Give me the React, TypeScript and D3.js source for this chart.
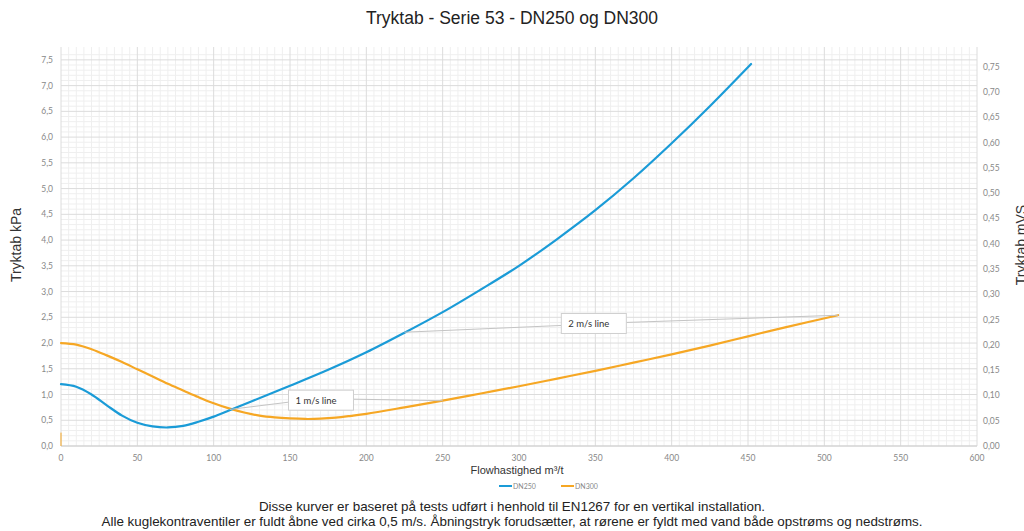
import React from "react";
import * as d3 from "d3";

const title = "Tryktab - Serie 53 - DN250 og DN300";
const xLabel = "Flowhastighed m³/t";
const yLeftLabel = "Tryktab kPa";
const yRightLabel = "Tryktab mVS";
const footer1 = "Disse kurver er baseret på tests udført i henhold til EN1267 for en vertikal installation.";
const footer2 = "Alle kuglekontraventiler er fuldt åbne ved cirka 0,5 m/s. Åbningstryk forudsætter, at rørene er fyldt med vand både opstrøms og nedstrøms.";

const xTicks = [0, 50, 100, 150, 200, 250, 300, 350, 400, 450, 500, 550, 600];
const yLeftTicks = [0, 0.5, 1, 1.5, 2, 2.5, 3, 3.5, 4, 4.5, 5, 5.5, 6, 6.5, 7, 7.5];
const yRightTicks = [0, 0.05, 0.1, 0.15, 0.2, 0.25, 0.3, 0.35, 0.4, 0.45, 0.5, 0.55, 0.6, 0.65, 0.7, 0.75];

const dn250X = [0, 10, 20, 30, 40, 50, 60, 70, 80, 90, 100, 110, 125, 150, 175, 200, 225, 250, 275, 300, 325, 350, 375, 400, 425, 452];
const dn250Y = [1.2, 1.15, 1.0, 0.79, 0.59, 0.45, 0.38, 0.36, 0.39, 0.47, 0.57, 0.69, 0.87, 1.17, 1.48, 1.82, 2.2, 2.6, 3.04, 3.5, 4.02, 4.58, 5.2, 5.88, 6.6, 7.42];

const dn300X = [0, 10, 20, 30, 40, 50, 60, 70, 80, 90, 100, 110, 120, 130, 140, 150, 160, 170, 180, 190, 200, 225, 250, 275, 300, 325, 350, 375, 400, 425, 450, 475, 509];
const dn300Y = [2.0, 1.97, 1.88, 1.76, 1.63, 1.49, 1.35, 1.21, 1.08, 0.95, 0.83, 0.73, 0.65, 0.59, 0.555, 0.535, 0.525, 0.53, 0.55, 0.585, 0.625, 0.75, 0.88, 1.02, 1.16, 1.31, 1.46, 1.62, 1.78, 1.95, 2.13, 2.31, 2.54];

const stubX = [0, 0];
const stubY = [0, 0.26];

const annotLabels = ["1 m/s line", "2 m/s line"];
const annotFromX = [110.5, 225];
const annotFromY = [0.71, 2.21];
const annotToX = [250, 509];
const annotToY = [0.88, 2.54];
const annotBoxX = [170.3, 349];
const annotBoxY = [0.89, 2.38];

const seriesNames = ["DN250", "DN300"];
const seriesColors = ["#1a9bd7", "#f6a724"];

const W = 1024, H = 531;
const M = { left: 61, right: 977, top: 47, bottom: 446 };

export default function App() {
  const x = d3.scaleLinear().domain([0, 600]).range([M.left, M.right]);
  const y = d3.scaleLinear().domain([0, 7.75]).range([M.bottom, M.top]);
  const yR = d3.scaleLinear().domain([0, 0.789]).range([M.bottom, M.top]);
  const fmt1 = (v: number) => d3.format(".1f")(v).replace(".", ",");
  const fmt2 = (v: number) => d3.format(".2f")(v).replace(".", ",");

  const line = d3.line<[number, number]>().x(d => x(d[0])).y(d => y(d[1])).curve(d3.curveCatmullRom.alpha(0.5));
  const d250 = line(dn250X.map((v, i) => [v, dn250Y[i]]) as [number, number][]) || "";
  const d300 = line(dn300X.map((v, i) => [v, dn300Y[i]]) as [number, number][]) || "";
  const dStub = d3.line<[number, number]>().x(d => x(d[0])).y(d => y(d[1]))(stubX.map((v, i) => [v, stubY[i]]) as [number, number][]) || "";

  const minorX = d3.range(0, 601, 5).filter(v => v % 50 !== 0);
  const minorY = d3.range(0, 77).map(i => i / 10).filter(v => Math.round(v * 10) % 5 !== 0);
  const majorY = d3.range(0, 16).map(i => i * 0.5);

  const tickFont = "Lato, 'Open Sans', sans-serif";
  const mainFont = "'Liberation Sans', Arial, sans-serif";

  return (
    <div style={{ position: "absolute", left: 0, top: 0 }}>
      <svg width={W} height={H} style={{ display: "block", background: "#fff" }}>
        <text x={512} y={24} textAnchor="middle" fontFamily={mainFont} fontSize={17.5} fill="#222">{title}</text>

        {/* grid */}
        {minorX.map(v => (
          <line key={"mx" + v} x1={x(v)} x2={x(v)} y1={M.top} y2={M.bottom} stroke="#efefef" strokeWidth={1} />
        ))}
        {minorY.map(v => (
          <line key={"my" + v} x1={M.left} x2={M.right} y1={y(v)} y2={y(v)} stroke="#efefef" strokeWidth={1} />
        ))}
        {xTicks.map(v => (
          <line key={"Mx" + v} x1={x(v)} x2={x(v)} y1={M.top} y2={M.bottom} stroke="#dcdcdc" strokeWidth={1} />
        ))}
        {majorY.map(v => (
          <line key={"My" + v} x1={M.left} x2={M.right} y1={y(v)} y2={y(v)} stroke="#dcdcdc" strokeWidth={1} />
        ))}
        <line x1={M.left} x2={M.right} y1={M.bottom} y2={M.bottom} stroke="#cfcfcf" />

        {/* tick labels */}
        {xTicks.map(v => (
          <text key={"xt" + v} x={x(v)} y={461} textAnchor="middle" fontFamily={tickFont} fontSize={8.5} fill="#888">{v}</text>
        ))}
        {yLeftTicks.map(v => (
          <text key={"yl" + v} x={53} y={y(v) + 3} textAnchor="end" fontFamily={tickFont} fontSize={8.5} fill="#888">{fmt1(v)}</text>
        ))}
        {yRightTicks.map(v => (
          <text key={"yr" + v} x={983} y={yR(v) + 3} textAnchor="start" fontFamily={tickFont} fontSize={8.5} fill="#888">{fmt2(v)}</text>
        ))}

        {/* axis titles */}
        <text transform="translate(21,245) rotate(-90)" textAnchor="middle" fontFamily={mainFont} fontSize={14} fill="#333">{yLeftLabel}</text>
        <text transform="translate(1026,245) rotate(-90)" textAnchor="middle" fontFamily={mainFont} fontSize={14} fill="#333">{yRightLabel}</text>
        <text x={517} y={474} textAnchor="middle" fontFamily={mainFont} fontSize={11} fill="#333">{xLabel}</text>

        {/* series */}
        <path d={dStub} fill="none" stroke={seriesColors[1]} strokeWidth={1} />
        <path d={d300} fill="none" stroke={seriesColors[1]} strokeWidth={2.2} strokeLinecap="round" />
        <path d={d250} fill="none" stroke={seriesColors[0]} strokeWidth={2.2} strokeLinecap="round" />

        {/* annotations */}
        {annotLabels.map((lab, i) => {
          const bx = x(annotBoxX[i]);
          const by = y(annotBoxY[i]);
          const bw = 65, bh = 20;
          return (
            <g key={"an" + i}>
              <line x1={x(annotFromX[i])} y1={y(annotFromY[i])} x2={bx - bw / 2} y2={by + 2} stroke="#c4c4c4" strokeWidth={1} />
              <line x1={bx + bw / 2} y1={by - 1} x2={x(annotToX[i])} y2={y(annotToY[i])} stroke="#c4c4c4" strokeWidth={1} />
              <rect x={bx - bw / 2} y={by - bh / 2} width={bw} height={bh} fill="#fff" stroke="#cfcfcf" strokeWidth={1} />
              <text x={bx - bw / 2 + 7} y={by + 3.5} fontFamily={tickFont} fontSize={9.5} fill="#333">{lab}</text>
            </g>
          );
        })}

        {/* legend */}
        {seriesNames.map((n, i) => (
          <g key={"lg" + n} transform={`translate(${499 + i * 62},486)`}>
            <line x1={0} x2={13} y1={0} y2={0} stroke={seriesColors[i]} strokeWidth={2} />
            <text x={14} y={2.5} fontFamily={tickFont} fontSize={7} fill="#888">{n}</text>
          </g>
        ))}

        {/* footer */}
        <text x={512} y={511} textAnchor="middle" fontFamily={mainFont} fontSize={13.4} fill="#222">{footer1}</text>
        <text x={512} y={526} textAnchor="middle" fontFamily={mainFont} fontSize={13.4} fill="#222">{footer2}</text>
      </svg>
    </div>
  );
}
